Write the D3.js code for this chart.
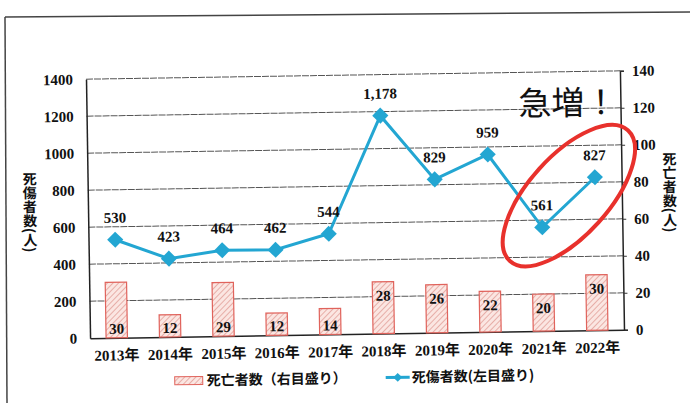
<!DOCTYPE html>
<html><head><meta charset="utf-8">
<script src="https://cdn.jsdelivr.net/npm/d3@7"></script>
<style>
html,body{margin:0;padding:0;background:#fff;}
svg{display:block;}
</style></head>
<body>
<svg id="c" width="690" height="403"></svg>
<script>
const years = ["2013年","2014年","2015年","2016年","2017年","2018年","2019年","2020年","2021年","2022年"];
const casualties = [530, 423, 464, 462, 544, 1178, 829, 959, 561, 827];
const deaths = [30, 12, 29, 12, 14, 28, 26, 22, 20, 30];
const leftTicks = [0, 200, 400, 600, 800, 1000, 1200, 1400];
const rightTicks = [0, 20, 40, 60, 80, 100, 120, 140];
const leftTitle = "死傷者数(人)";
const rightTitle = "死亡者数(人)";
const legendBar = "死亡者数（右目盛り）";
const legendLine = "死傷者数(左目盛り)";
const annotation = "急増！";

const SERIF = "'Liberation Serif', 'DejaVu Serif', 'Noto Sans CJK JP', serif";
const JP = "'Noto Sans CJK JP', 'Noto Sans CJK SC', sans-serif";
const num = sel => sel.style("font-family", SERIF).style("font-weight","bold").style("font-size","15px").style("fill","#111");

const svg = d3.select("#c");
svg.append("line").attr("x1",5).attr("y1",17).attr("x2",690).attr("y2",12).attr("stroke","#444").attr("stroke-width",1.5);
svg.append("line").attr("x1",5).attr("y1",17).attr("x2",7).attr("y2",403).attr("stroke","#444").attr("stroke-width",1.5);

const L = 88, R = 622, T = 75, B = 334;
const g = svg.append("g").attr("transform","rotate(-0.9 355 205)");

const defs = svg.append("defs");
const pat = defs.append("pattern").attr("id","hatch").attr("patternUnits","userSpaceOnUse")
  .attr("width",4).attr("height",4).attr("patternTransform","rotate(45)");
pat.append("rect").attr("width",4).attr("height",4).attr("fill","#fbe6e2");
pat.append("line").attr("x1",0).attr("y1",0).attr("x2",0).attr("y2",4).attr("stroke","#dc9088").attr("stroke-width",1.3);

const x = d3.scaleBand().domain(years).range([L,R]).padding(0);
const yL = d3.scaleLinear().domain([0,1400]).range([B,T]);
const yR = d3.scaleLinear().domain([0,140]).range([B,T]);

g.append("g").selectAll("line").data(leftTicks.filter(d=>d>0)).join("line")
  .attr("x1",L).attr("x2",R).attr("y1",d=>yL(d)).attr("y2",d=>yL(d))
  .attr("stroke","#555").attr("stroke-width",1).attr("stroke-dasharray","7,1");

const axL = g.append("g").attr("transform",`translate(${L},0)`)
  .call(d3.axisLeft(yL).tickValues(leftTicks).tickFormat(d3.format("d")).tickSize(0).tickPadding(13));
axL.select(".domain").attr("stroke","#222").attr("stroke-width",1.5);
axL.selectAll("text").call(num);

const axR = g.append("g").attr("transform",`translate(${R},0)`)
  .call(d3.axisRight(yR).tickValues(rightTicks).tickFormat(d3.format("d")).tickSize(4).tickPadding(8));
axR.select(".domain").attr("stroke","#222").attr("stroke-width",1.5);
axR.selectAll(".tick line").attr("stroke","#333");
axR.selectAll("text").call(num);

const axB = g.append("g").attr("transform",`translate(0,${B})`)
  .call(d3.axisBottom(x).tickSize(0).tickPadding(12));
axB.select(".domain").attr("stroke","#222").attr("stroke-width",1.5);
axB.selectAll("text").call(num);

const bw = x.bandwidth()*0.4;
g.append("g").selectAll("rect").data(deaths).join("rect")
  .attr("x",(d,i)=>x(years[i])+x.bandwidth()/2-bw/2)
  .attr("y",d=>yR(d)).attr("width",bw).attr("height",d=>B-yR(d))
  .attr("fill","url(#hatch)").attr("stroke","#e0635c").attr("stroke-width",1.2);
g.append("g").selectAll("text").data(deaths).join("text")
  .call(num).attr("text-anchor","middle")
  .attr("x",(d,i)=>x(years[i])+x.bandwidth()/2)
  .attr("y",(d,i)=> i<5 ? B-4 : yR(d)+19)
  .text(d=>d);

const cx = i => x(years[i])+x.bandwidth()/2;
g.append("path").datum(casualties)
  .attr("d",d3.line().x((d,i)=>cx(i)).y(d=>yL(d)))
  .attr("fill","none").attr("stroke","#23a6d2").attr("stroke-width",3);
g.append("g").selectAll("path").data(casualties).join("path")
  .attr("d",d3.symbol(d3.symbolSquare,130))
  .attr("transform",(d,i)=>`translate(${cx(i)},${yL(d)}) rotate(45)`)
  .attr("fill","#23a6d2");
g.append("g").selectAll("text").data(casualties).join("text")
  .call(num).attr("text-anchor","middle")
  .attr("x",(d,i)=>cx(i)).attr("y",d=>yL(d)-17)
  .text(d=>d3.format(",")(d));

g.append("text").attr("transform","translate(30,207)")
  .style("font-family",JP).style("writing-mode","vertical-rl").attr("text-anchor","middle")
  .style("font-size","14px").style("font-weight","bold").style("fill","#111").text(leftTitle);
g.append("text").attr("transform","translate(670,197)")
  .style("font-family",JP).style("writing-mode","vertical-rl").attr("text-anchor","middle")
  .style("font-size","14px").style("font-weight","bold").style("fill","#111").text(rightTitle);

const lg = g.append("g").attr("transform","translate(172,378)");
lg.append("rect").attr("x",0).attr("y",-4).attr("width",28).attr("height",8)
  .attr("fill","url(#hatch)").attr("stroke","#e0635c").attr("stroke-width",1);
lg.append("text").attr("x",32).attr("y",5).style("font-family",JP).style("font-size","14px").style("font-weight","bold").style("fill","#111").text(legendBar);
lg.append("line").attr("x1",211).attr("x2",235).attr("y1",0).attr("y2",0).attr("stroke","#23a6d2").attr("stroke-width",3);
lg.append("path").attr("d",d3.symbol(d3.symbolSquare,40)).attr("transform","translate(223,0) rotate(45)").attr("fill","#23a6d2");
lg.append("text").attr("x",237).attr("y",5).style("font-family",JP).style("font-size","14px").style("font-weight","bold").style("fill","#111").text(legendLine);

g.append("text").attr("x",520).attr("y",118).style("font-family",JP)
  .style("font-size","33px").style("fill","#111").text(annotation);
g.append("ellipse").attr("cx",0).attr("cy",0).attr("rx",88).attr("ry",40)
  .attr("transform","translate(569,199) rotate(-47)")
  .attr("fill","none").attr("stroke","#e8312c").attr("stroke-width",4);
</script>
</body></html>
